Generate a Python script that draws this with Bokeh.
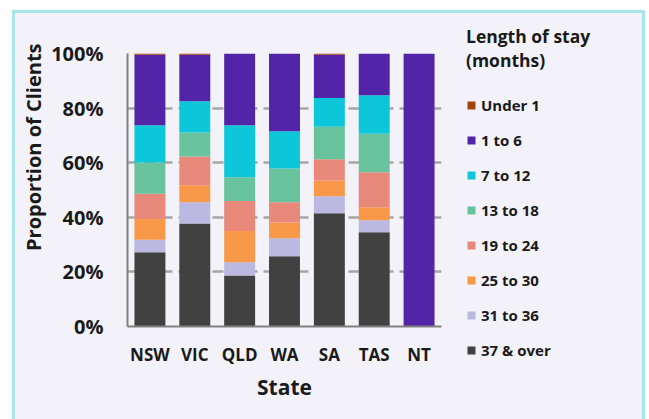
from bokeh.plotting import figure
from bokeh.layouts import row
from bokeh.models import (FactorRange, Range1d, FixedTicker, PrintfTickFormatter,
                          Legend, LegendItem, Title, ColumnDataSource)
from bokeh.embed import file_html
from bokeh.resources import INLINE

states = ["NSW", "VIC", "QLD", "WA", "SA", "TAS", "NT"]
stay_groups = ["37 & over", "31 to 36", "25 to 30", "19 to 24",
               "13 to 18", "7 to 12", "1 to 6", "Under 1"]
over_37 = [27.2, 37.7, 18.7, 25.7, 41.5, 34.5, 0]
m31_36 = [4.6, 7.8, 4.8, 6.6, 6.2, 4.4, 0]
m25_30 = [7.6, 6.2, 11.5, 5.8, 5.8, 4.8, 0]
m19_24 = [9.2, 10.6, 11.0, 7.4, 7.8, 12.8, 0]
m13_18 = [11.5, 8.8, 8.7, 12.4, 11.9, 14.1, 0]
m7_12 = [13.6, 11.4, 19.0, 13.6, 10.5, 14.1, 0]
m1_6 = [25.8, 17.0, 26.3, 28.5, 15.8, 15.3, 100]
under_1 = [0.5, 0.5, 0, 0, 0.5, 0, 0]
y_ticks = [0, 20, 40, 60, 80, 100]

colors = ["#414141", "#BBB9E1", "#F89848", "#E8897B",
          "#69C49E", "#0CC6DA", "#5224A8", "#A0440C"]

series = [over_37, m31_36, m25_30, m19_24, m13_18, m7_12, m1_6, under_1]
data = {"state": states}
for g, s in zip(stay_groups, series):
    data[g] = s
source = ColumnDataSource(data)

BG = "#F3F2F8"
FONT = "Open Sans"
TXT = "#1A1A1A"

p = figure(x_range=FactorRange(*states, range_padding=0), y_range=Range1d(0, 100),
           width=440, height=406, output_backend="svg", toolbar_location=None,
           min_border_left=111, min_border_top=40, min_border_right=14,
           min_border_bottom=93)
p.frame_align = False
p.background_fill_color = BG
p.border_fill_color = BG
p.outline_line_color = None

renderers = p.vbar_stack(stay_groups, x="state", width=0.69, color=colors,
                         line_color=None, source=source)

p.xgrid.grid_line_color = None
p.ygrid.ticker = FixedTicker(ticks=y_ticks)
p.ygrid.grid_line_color = "#A6A6A6"
p.ygrid.grid_line_width = 2.5
p.ygrid.grid_line_dash = "11 6"

p.yaxis.ticker = FixedTicker(ticks=y_ticks)
p.yaxis.formatter = PrintfTickFormatter(format="%d%%")
for ax in (p.xaxis[0], p.yaxis[0]):
    ax.axis_line_color = "#808080"
    ax.axis_line_width = 2
    ax.major_tick_line_color = None
    ax.minor_tick_line_color = None
    ax.major_label_text_font = FONT
    ax.major_label_text_font_style = "bold"
    ax.major_label_text_color = TXT
p.yaxis.major_label_text_font_size = "20px"
p.yaxis.major_label_standoff = 18
p.xaxis.major_label_text_font_size = "17px"
p.xaxis.major_label_standoff = 10
p.xaxis.axis_label = "State"
p.xaxis.axis_label_text_font = FONT
p.xaxis.axis_label_text_font_style = "bold"
p.xaxis.axis_label_text_font_size = "21px"
p.xaxis.axis_label_text_color = TXT
p.xaxis.axis_label_standoff = 4

ytitle = Title(text="Proportion of Clients", align="right", text_font=FONT,
               text_font_style="bold", text_font_size="20px", text_color=TXT,
               standoff=4, offset=-10)
p.add_layout(ytitle, "left")

# legend panel (its renderers share the data but sit outside this panel's view)
p2 = figure(x_range=FactorRange(*states), y_range=Range1d(200, 300), width=187,
            height=406, output_backend="svg", toolbar_location=None,
            x_axis_location=None, y_axis_location=None,
            min_border_left=0, min_border_right=0, min_border_top=0, min_border_bottom=0)
p2.frame_align = False
p2.background_fill_color = BG
p2.border_fill_color = BG
p2.outline_line_color = None
p2.grid.grid_line_color = None

r2 = p2.vbar_stack(stay_groups, x="state", width=0.69, color=colors,
                   line_color=None, source=source)
items = [LegendItem(label=g, renderers=[r]) for g, r in zip(stay_groups, r2)]
items.reverse()
legend = Legend(items=items, location=(11, 59), margin=0, padding=0,
                title="Length of stay\n(months)", title_text_font=FONT,
                title_text_font_style="bold", title_text_font_size="17.5px",
                title_text_color=TXT, title_text_line_height=1.5,
                title_standoff=23,
                label_text_font=FONT, label_text_font_style="bold",
                label_text_font_size="15px", label_text_color=TXT,
                glyph_width=10, glyph_height=10, label_height=20, spacing=15,
                label_standoff=5, border_line_color=None, background_fill_alpha=0)
p2.add_layout(legend)

layout = row(p, p2, spacing=0)
layout.styles = {"border-left": "3px solid #A8E6EE", "border-right": "3px solid #A8E6EE",
                 "border-top": "3px solid #A8E6EE", "margin-left": "12px",
                 "margin-top": "10px", "background-color": BG}

open("out.html", "w").write(file_html(layout, INLINE))
